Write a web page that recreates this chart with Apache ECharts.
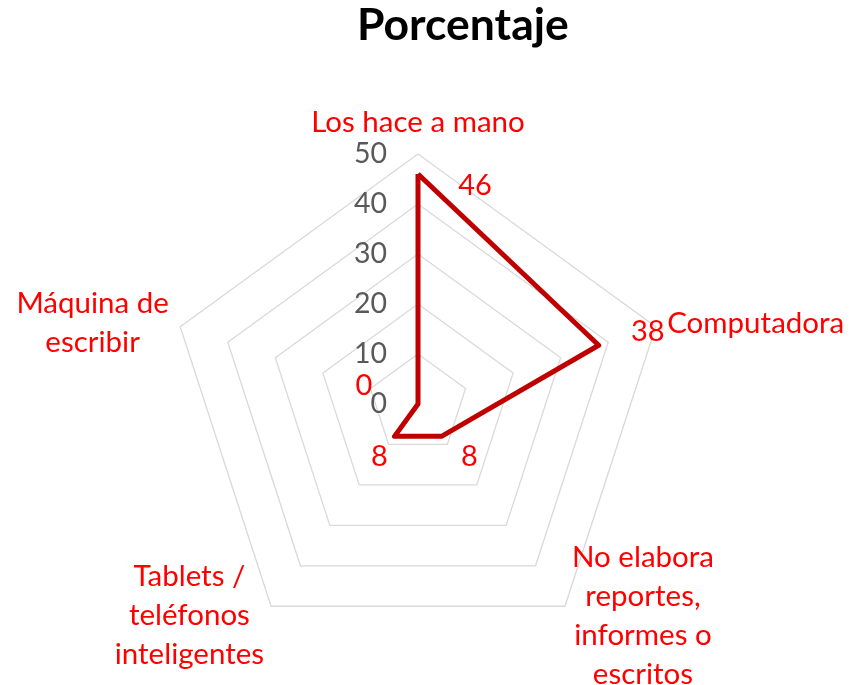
<!DOCTYPE html>
<html>
<head>
<meta charset="utf-8">
<script src="https://cdn.jsdelivr.net/npm/echarts@6/dist/echarts.min.js"></script>
<style>
  html, body { margin: 0; padding: 0; background: #fff; }
  #chart { width: 851px; height: 685px; }
</style>
</head>
<body>
<div id="chart"></div>
<script>
// datos en el orden de Excel (sentido horario desde arriba)
const categories = [
  "Los hace a mano",
  "Computadora",
  "No elabora\nreportes,\ninformes o\nescritos",
  "Tablets /\nteléfonos\ninteligentes",
  "Máquina de\nescribir",
];
const values = [46, 38, 8, 8, 0];
const axisMin = 0;
const axisMax = 50;
const axisStep = 10;

// desplazamiento de las etiquetas de datos (solo estilo)
const labelOffsets = [[57, 12], [49, -14], [28, 20], [-15, 20], [-54, -18]];

const FONT = "Lato";
const RED = "#FF0000";
const CENTER = [418, 404];
const RADIUS = 250;

// ECharts dibuja el radar en sentido antihorario
const order = [0, 4, 3, 2, 1];
const ccwNames = order.map((i) => categories[i]);
const ccwValues = order.map((i) => values[i]);

const chartDom = document.getElementById("chart");
const myChart = echarts.init(chartDom);

const indicators = ccwNames.map((n, i) => {
  const ind = { name: n, min: axisMin, max: axisMax };
  if (i === 0) {
    ind.axisLabel = {
      show: true,
      color: "#595959",
      fontFamily: FONT,
      fontSize: 28.5,
      margin: 31,
    };
  }
  return ind;
});

const option = {
  animation: false,
  title: {
    text: "Porcentaje",
    left: 352,
    top: -2,
    textStyle: {
      fontFamily: FONT,
      fontWeight: "bold",
      fontSize: 44.5,
      color: "#000",
    },
  },
  radar: {
    center: CENTER,
    radius: RADIUS,
    startAngle: 90,
    shape: "polygon",
    splitNumber: (axisMax - axisMin) / axisStep,
    axisNameGap: 12,
    axisName: {
      color: RED,
      fontFamily: FONT,
      fontSize: 29.5,
      formatter: (name) =>
        name
          .split("\n")
          .map((l) => "{n|" + l + "}")
          .join("\n"),
      rich: {
        n: {
          align: "center",
          color: RED,
          fontFamily: FONT,
          fontSize: 29.5,
          lineHeight: 39,
        },
      },
    },
    axisLine: { show: false },
    axisTick: { show: false },
    splitArea: { show: false },
    splitLine: { lineStyle: { color: "#D9D9D9", width: 1.3 } },
    indicator: indicators,
  },
  polar: {
    center: CENTER,
    radius: RADIUS,
  },
  angleAxis: {
    type: "category",
    data: ccwNames,
    startAngle: 90,
    clockwise: false,
    boundaryGap: false,
    show: false,
  },
  radiusAxis: {
    min: axisMin,
    max: axisMax,
    show: false,
  },
  series: [
    {
      type: "radar",
      symbol: "none",
      lineStyle: { color: "#C00000", width: 5 },
      data: [{ value: ccwValues, name: "Porcentaje" }],
    },
    {
      type: "scatter",
      coordinateSystem: "polar",
      symbolSize: 0,
      silent: true,
      itemStyle: { opacity: 1 },
      label: {
        show: true,
        position: "inside",
        color: RED,
        fontFamily: FONT,
        fontSize: 29,
        formatter: (p) => String(p.value[0]),
      },
      data: ccwValues.map((v, i) => ({
        value: [v, ccwNames[i]],
        label: { offset: labelOffsets[order[i]] },
      })),
    },
  ],
};

option && myChart.setOption(option);
</script>
</body>
</html>
